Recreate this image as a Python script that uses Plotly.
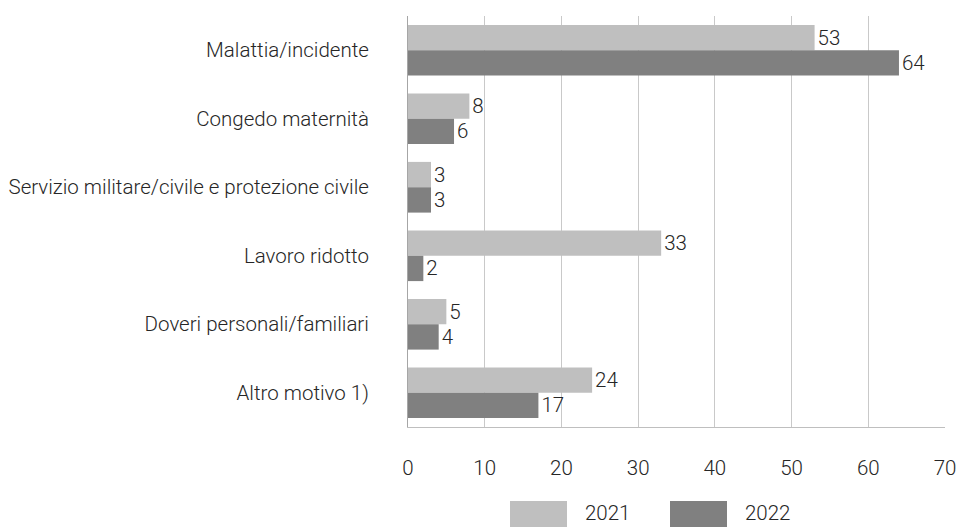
import plotly.graph_objects as go

categories = ["Malattia/incidente", "Congedo maternità",
              "Servizio militare/civile e protezione civile", "Lavoro ridotto",
              "Doveri personali/familiari", "Altro motivo 1)"]
series_names = ["2021", "2022"]
values_2021 = [53, 8, 3, 33, 5, 24]
values_2022 = [64, 6, 3, 2, 4, 17]
x_ticks = [0, 10, 20, 30, 40, 50, 60, 70]
colors = ["#bfbfbf", "#808080"]

FONT = "Roboto, sans-serif"
TXT = "#262626"
FS = 20.5
W = 300


def f():
    return dict(family=FONT, size=FS, color=TXT, weight=W)


L, R, T, B = 408, 14, 16, 100
PW = 959 - L - R
PH = 527 - T - B

fig = go.Figure()
for name, vals, col in zip(series_names, [values_2021, values_2022], colors):
    fig.add_trace(go.Bar(
        y=categories, x=vals, name=name, orientation="h",
        marker=dict(color=col, line=dict(width=0)),
        text=[str(v) for v in vals], textposition="outside",
        textfont=f(), constraintext="none", cliponaxis=False,
        showlegend=False, hoverinfo="skip",
    ))

fig.update_layout(
    width=959, height=527,
    margin=dict(l=L, r=R, t=T, b=B, autoexpand=False),
    paper_bgcolor="white", plot_bgcolor="white",
    barmode="group", bargap=0.26, bargroupgap=0,
    font=f(),
    xaxis=dict(range=[0, 70], tickvals=x_ticks, showgrid=True,
               gridcolor="#c9c9c9", gridwidth=1, zeroline=False,
               showline=True, linecolor="#bfbfbf", linewidth=1,
               ticks="", ticklabelstandoff=22, automargin=False,
               tickfont=f()),
    yaxis=dict(autorange="reversed", showline=True, linecolor="#a6a6a6",
               linewidth=1, ticks="", ticklabelstandoff=34, automargin=False,
               tickfont=f()),
)

# custom legend with large swatches
leg_x = [510, 670]
for i, (name, col) in enumerate(zip(series_names, colors)):
    fig.add_shape(type="rect", xref="paper", yref="paper",
                  x0=(leg_x[i] - L) / PW, x1=(leg_x[i] + 57 - L) / PW,
                  y0=(527 - B - 527) / PH, y1=(527 - B - 501) / PH,
                  fillcolor=col, line=dict(width=0))
    fig.add_annotation(xref="paper", yref="paper",
                       x=(leg_x[i] + 73 - L) / PW,
                       y=(527 - B - 513) / PH, xanchor="left", yanchor="middle",
                       text=name, showarrow=False, font=f())

fig.write_html("out.html", config={"displayModeBar": False},
               post_script="document.body.style.margin='0';document.body.style.overflow='hidden';")
